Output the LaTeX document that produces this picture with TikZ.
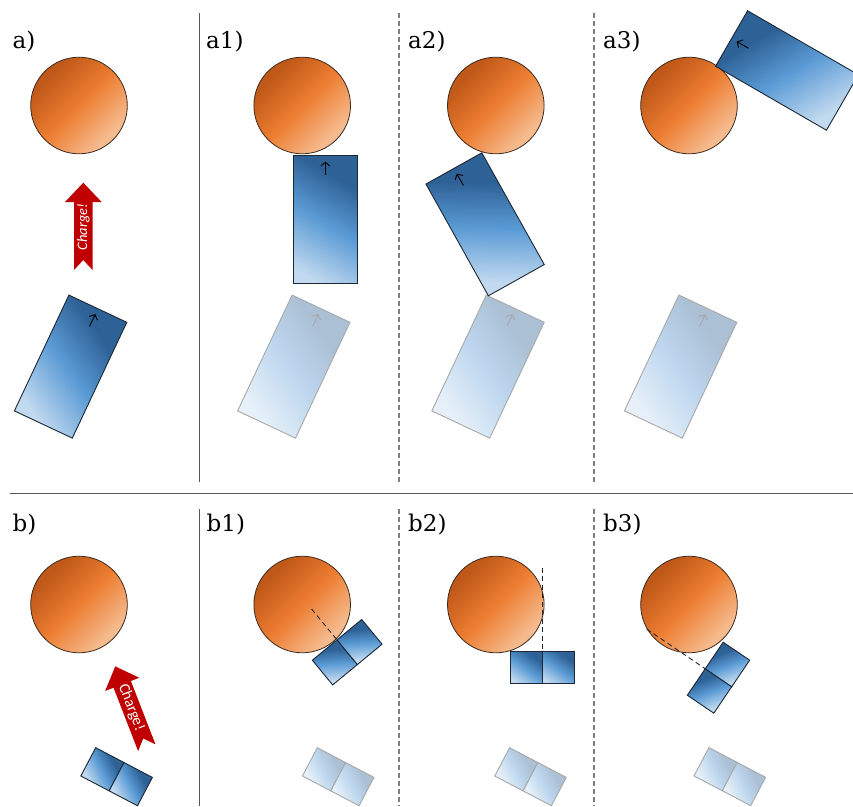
\documentclass[tikz,border=0pt]{standalone}
\usepackage{fontspec}
\newfontfamily\labelfont{DejaVu Serif}
\newfontfamily\chargefont{Carlito}
\usetikzlibrary{arrows.meta}
\definecolor{bdark}{HTML}{2E6297}
\definecolor{bmid}{HTML}{5B9BD5}
\definecolor{blight}{HTML}{C2DAF0}
\colorlet{gdark}{bdark!40!white}
\colorlet{gmid}{bmid!40!white}
\colorlet{glight}{blight!40!white}
\definecolor{odark}{HTML}{BF5818}
\definecolor{omid}{HTML}{ED7D31}
\definecolor{olight}{HTML}{F5BA8D}
\definecolor{oedge}{HTML}{3D2B1F}
\definecolor{bedge}{HTML}{1C2733}
\definecolor{gedge}{HTML}{A8A8A8}
\definecolor{chargered}{HTML}{C00000}
\definecolor{sepgray}{HTML}{595959}
\definecolor{dsepgray}{HTML}{808080}
\pgfdeclareverticalshading{ballshade}{100bp}{color(0bp)=(olight); color(28bp)=(olight);
  color(50bp)=(omid); color(72bp)=(odark); color(100bp)=(odark)}
\pgfdeclareverticalshading{slabshade}{100bp}{color(0bp)=(blight); color(22bp)=(blight);
  color(48bp)=(bmid); color(70bp)=(bdark); color(100bp)=(bdark)}
\pgfdeclareverticalshading{ghostshade}{100bp}{color(0bp)=(glight); color(22bp)=(glight);
  color(48bp)=(gmid); color(70bp)=(gdark); color(100bp)=(gdark)}
\tikzset{
  ball/.style={circle, minimum size=96.6pt, inner sep=0pt, draw=oedge, line width=0.8pt,
    shading=ballshade, shading angle=45},
  slab/.style={rectangle, minimum width=64pt, minimum height=128pt, inner sep=0pt,
    draw=bedge, line width=0.9pt, shading=slabshade, shading angle=-30},
  ghostslab/.style={slab, draw=gedge, shading=ghostshade},
  cell/.style={rectangle, minimum width=32pt, minimum height=32pt, inner sep=0pt,
    draw=bedge, line width=0.9pt, shading=slabshade, shading angle=-35},
  ghostcell/.style={cell, draw=gedge, shading=ghostshade},
  slabarrow/.style={draw=black, line width=0.9pt, -{Straight Barb[length=4pt,width=9pt]}},
  ghostslabarrow/.style={slabarrow, draw=gedge},
  lbl/.style={font=\labelfont\fontsize{23}{26}\selectfont, anchor=base west, inner sep=0pt},
  chargetext/.style={text=white, inner sep=0pt},
  solidsep/.style={draw=sepgray, line width=0.9pt},
  dashsep/.style={draw=dsepgray, line width=1.1pt, dash pattern=on 5pt off 3pt},
  guide/.style={draw=black!85, line width=0.9pt, dash pattern=on 5pt off 3.5pt},
}
\newcommand{\putslab}[5]{%
  \begin{scope}[transform canvas={shift={(#2,-#3)},rotate=#4}]
    \node[#5] (#1) at (0,0) {};
    \coordinate (#1-s) at (0,44.5);
    \coordinate (#1-e) at (0,58);
    \draw[#5arrow] (#1-s) -- (#1-e);
  \end{scope}}
\newcommand{\putblock}[5]{%
  \begin{scope}[transform canvas={shift={(#2,-#3)},rotate=#4}]
    \node[#5] (#1-l) at (-16,0) {};
    \node[#5] (#1-r) at (16,0) {};
  \end{scope}}
\newcommand{\putguide}[5]{%
  \begin{scope}[transform canvas={shift={(#2,-#3)},rotate=#4}]
    \coordinate (#1-a) at (0,16);
    \coordinate (#1-b) at (0,#5);
    \draw[guide] (#1-b) -- (#1-a);
  \end{scope}}
\newcommand{\putcharge}[6]{%
  \begin{scope}[shift={(#2,-#3)},rotate=#4]
    \fill[chargered] (0,43.6) -- (18.3,24.3) -- (9.3,24.3) -- (9.3,-43.7) -- (0,-33.7)
      -- (-9.3,-43.7) -- (-9.3,24.3) -- (-18.3,24.3) -- cycle;
    \node[chargetext, font=#6, rotate=#5] (#1) at (0,-0.5) {Charge!};
  \end{scope}}
\begin{document}
\begin{tikzpicture}[x=1pt,y=1pt]
\path[use as bounding box, fill=white] (0,0) rectangle (853,-806);

% separators
\draw[solidsep] (199,-13.3) -- (199,-481.7);
\draw[solidsep] (199,-509.3) -- (199,-806);
\draw[dashsep] (399,-13.3) -- (399,-481.7);
\draw[dashsep] (399,-509.3) -- (399,-806);
\draw[dashsep] (594,-13.3) -- (594,-481.7);
\draw[dashsep] (594,-509.3) -- (594,-806);
\draw[solidsep] (9.5,-493.3) -- (853,-493.3);

% labels
\node[lbl] (la)  at (12.5,-48) {a)};
\node[lbl] (la1) at (206,-48) {a1)};
\node[lbl] (la2) at (408,-48) {a2)};
\node[lbl] (la3) at (603,-48) {a3)};
\node[lbl] (lb)  at (12.5,-531.5) {b)};
\node[lbl] (lb1) at (206.5,-531.5) {b1)};
\node[lbl] (lb2) at (408,-531.5) {b2)};
\node[lbl] (lb3) at (603,-531.5) {b3)};

% top row: balls
\node[ball] (ca0) at (79,-105.5) {};
\node[ball] (ca1) at (302.2,-105.5) {};
\node[ball] (ca2) at (495.8,-105.5) {};
\node[ball] (ca3) at (689,-105.5) {};

% top row: ghosts
\putslab{ga1}{293.8}{366.6}{-25.2}{ghostslab}
\putslab{ga2}{488.0}{366.6}{-25.2}{ghostslab}
\putslab{ga3}{680.6}{366.6}{-25.2}{ghostslab}

% top row: slabs
\putslab{ra0}{70.6}{366.6}{-25.2}{slab}
\putslab{ra1}{325.3}{219.5}{0}{slab}
\putslab{ra2}{485.1}{224.3}{29.2}{slab}
\putslab{ra3}{787.0}{70.5}{60}{slab}

% charge arrows
\putcharge{cha}{83.3}{226.3}{0}{90}{\chargefont\fontsize{14.5}{16}\selectfont\itshape}
\putcharge{chb}{131}{707}{21.2}{-68.8}{\chargefont\fontsize{15.5}{17}\selectfont}

% bottom row: balls
\node[ball] (cb0) at (79,-604.5) {};
\node[ball] (cb1) at (302.2,-604.5) {};
\node[ball] (cb2) at (495.8,-604.5) {};
\node[ball] (cb3) at (689,-604.5) {};

% bottom row: ghosts
\putblock{gb1}{338.2}{776.7}{-27.7}{ghostcell}
\putblock{gb2}{530.5}{776.7}{-27.7}{ghostcell}
\putblock{gb3}{729.8}{776.6}{-27.7}{ghostcell}

% bottom row: blocks
\putblock{rb0}{116.6}{776.7}{-27.7}{cell}
\putblock{rb1}{347.2}{652.2}{39.5}{cell}
\putblock{rb2}{542.3}{667.5}{0}{cell}
\putblock{rb3}{718.5}{677.7}{55.9}{cell}

% guide lines
\putguide{db1}{347.2}{652.2}{39.5}{56}
\putguide{db2}{542.3}{667.5}{0}{99.7}
\putguide{db3}{718.5}{677.7}{55.9}{87}
\end{tikzpicture}
\end{document}
